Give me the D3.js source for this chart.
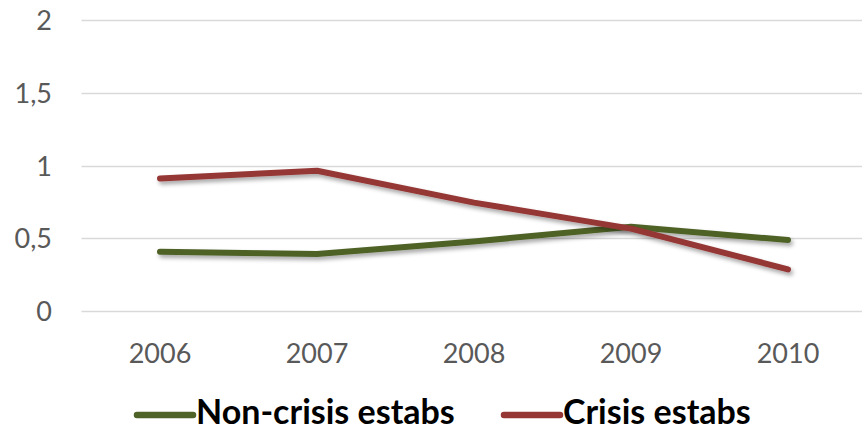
<!DOCTYPE html>
<html>
<head>
<meta charset="utf-8">
<script src="https://cdn.jsdelivr.net/npm/d3@7"></script>
<style>
  html, body { margin: 0; padding: 0; background: #fff; }
  svg { display: block; font-family: Lato, "Open Sans", sans-serif; }
</style>
</head>
<body>
<svg id="chart" width="862" height="432"></svg>
<script>
const categories = ["2006", "2007", "2008", "2009", "2010"];
const nonCrisis = [0.407, 0.391, 0.478, 0.579, 0.488];
const crisis = [0.911, 0.964, 0.745, 0.566, 0.286];
const yTicks = [0, 0.5, 1, 1.5, 2];
const seriesNames = ["Non-crisis estabs", "Crisis estabs"];
const seriesColors = ["#4F6228", "#953735"];

const svg = d3.select("#chart");
const W = 862, H = 432;

const defs = svg.append("defs");
const f = defs.append("filter").attr("id", "shadow")
  .attr("x", "-10%").attr("y", "-50%").attr("width", "120%").attr("height", "200%");
f.append("feDropShadow").attr("dx", 2).attr("dy", 3).attr("stdDeviation", 2)
  .attr("flood-color", "#000").attr("flood-opacity", 0.35);

const x = d3.scaleBand().domain(categories).range([81.5, 866.5]);
const y = d3.scaleLinear().domain([0, 2]).range([311, 20]);
const cx = d => x(d) + x.bandwidth() / 2;

// gridlines
svg.append("g").selectAll("line").data(yTicks).join("line")
  .attr("x1", 81.5).attr("x2", W)
  .attr("y1", d => Math.round(y(d)) + 0.5).attr("y2", d => Math.round(y(d)) + 0.5)
  .attr("stroke", "#d9d9d9").attr("stroke-width", 1.3);

// y axis labels
const fmt = d => String(d).replace(".", ",");
const yAxis = d3.axisLeft(y).tickValues(yTicks).tickFormat(fmt).tickSize(0).tickPadding(0);
const gy = svg.append("g").attr("transform", "translate(52,0)").call(yAxis);
gy.select(".domain").remove();
gy.selectAll("text").attr("font-size", 27).attr("fill", "#595959")
  .attr("font-family", "Lato, sans-serif").attr("dy", "0.36em");

// x axis labels
const xAxis = d3.axisBottom(x).tickSize(0).tickPadding(0);
const gx = svg.append("g").attr("transform", "translate(0,363)").call(xAxis);
gx.select(".domain").remove();
gx.selectAll("text").attr("font-size", 27).attr("fill", "#595959")
  .attr("font-family", "Lato, sans-serif").attr("dy", 0);

// lines
const series = [nonCrisis, crisis];
const line = d3.line().x((d, i) => cx(categories[i])).y(d => y(d));
svg.append("g").selectAll("path").data(series).join("path")
  .attr("d", d => line(d))
  .attr("fill", "none")
  .attr("stroke", (d, i) => seriesColors[i])
  .attr("stroke-width", 6)
  .attr("stroke-linecap", "round")
  .attr("stroke-linejoin", "round")
  .attr("filter", "url(#shadow)");

// legend
const legendX = [137, 504];
const lg = svg.append("g").selectAll("g").data(seriesNames).join("g")
  .attr("transform", (d, i) => `translate(${legendX[i]},0)`);
lg.append("line").attr("x1", 0).attr("x2", 56).attr("y1", 415).attr("y2", 415)
  .attr("stroke", (d, i) => seriesColors[i]).attr("stroke-width", 6.5)
  .attr("stroke-linecap", "round");
lg.append("text").attr("x", 59).attr("y", 424).text(d => d)
  .attr("font-size", 34).attr("font-weight", "bold").attr("fill", "#000")
  .attr("font-family", "Lato, sans-serif");
</script>
</body>
</html>
